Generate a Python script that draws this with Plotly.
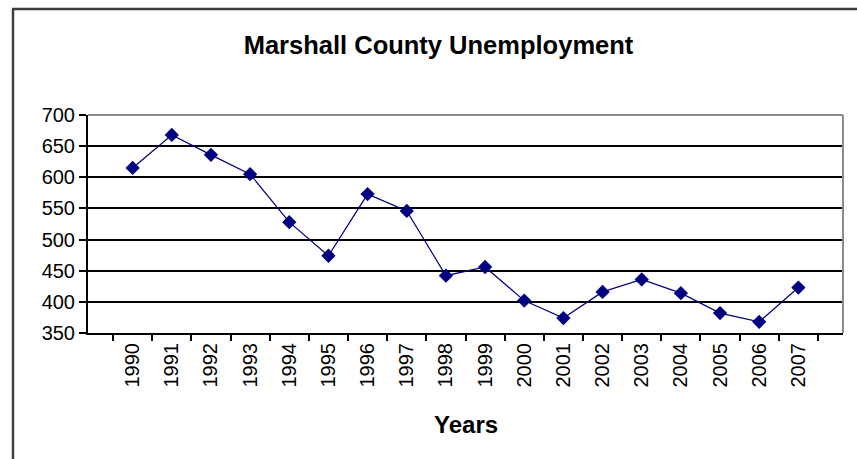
import plotly.graph_objects as go

years = ["1990", "1991", "1992", "1993", "1994", "1995", "1996", "1997", "1998",
         "1999", "2000", "2001", "2002", "2003", "2004", "2005", "2006", "2007"]
unemployment = [615, 668, 636, 605, 528, 474, 573, 546, 442,
                456, 402, 374, 416, 436, 414, 382, 368, 423]
y_ticks = [350, 400, 450, 500, 550, 600, 650, 700]

W, H = 857, 459
L, R, T, B = 88, 14, 115, 126
pw, ph = W - L - R, H - T - B

navy = "#000080"
fig = go.Figure()
fig.add_trace(go.Scatter(
    x=years, y=unemployment, mode="lines+markers",
    line=dict(color=navy, width=1.2),
    marker=dict(symbol="diamond", size=11, color=navy),
    showlegend=False, hoverinfo="x+y",
))

font = "Liberation Sans, Arial, sans-serif"
fig.update_layout(
    width=W, height=H,
    margin=dict(l=L, r=R, t=T, b=B),
    paper_bgcolor="white", plot_bgcolor="white",
    font=dict(family=font, color="black"),
    title=dict(text="<b>Marshall County Unemployment</b>",
               x=438.5 / W, xref="container", xanchor="center",
               y=1 - 45 / H, yref="container", yanchor="middle",
               font=dict(size=25.5, family=font, color="black")),
    xaxis=dict(type="category", tickangle=-90, tickson="boundaries",
               ticks="outside", ticklen=6, tickcolor="black", tickwidth=1.5,
               showline=True, linecolor="black", linewidth=2,
               showgrid=False, tickfont=dict(size=20, family=font),
               fixedrange=True),
    yaxis=dict(range=[350, 700], tickvals=y_ticks, ticks="outside", ticklen=7,
               tickcolor="black", tickwidth=1.5,
               showline=True, linecolor="black", linewidth=2,
               showgrid=True, gridcolor="black", gridwidth=1.6,
               zeroline=False, tickfont=dict(size=20, family=font),
               fixedrange=True),
)

# plot-area border (grey top and right)
fig.add_shape(type="line", xref="paper", yref="paper", x0=0, x1=1, y0=1, y1=1,
              line=dict(color="#8c8c8c", width=2), layer="above")
fig.add_shape(type="line", xref="paper", yref="paper", x0=1, x1=1, y0=0, y1=1,
              line=dict(color="#8c8c8c", width=2), layer="above")

# outer chart frame (top and left edges visible)
def px_x(p):
    return (p - L) / pw

def px_y(p):
    return (H - B - p) / ph

fig.add_shape(type="line", xref="paper", yref="paper",
              x0=px_x(12), x1=px_x(870), y0=px_y(9), y1=px_y(9),
              line=dict(color="#404040", width=2.5), layer="above")
fig.add_shape(type="line", xref="paper", yref="paper",
              x0=px_x(13), x1=px_x(13), y0=px_y(9), y1=px_y(470),
              line=dict(color="#404040", width=2.5), layer="above")

fig.add_annotation(text="<b>Years</b>", xref="paper", yref="paper",
                   x=0.5, y=px_y(424), xanchor="center", yanchor="middle",
                   showarrow=False, font=dict(size=24, family=font, color="black"))

fig.write_html("out.html",
               config={"displayModeBar": False},
               post_script="document.body.style.margin='0px';document.body.style.overflow='hidden';")
